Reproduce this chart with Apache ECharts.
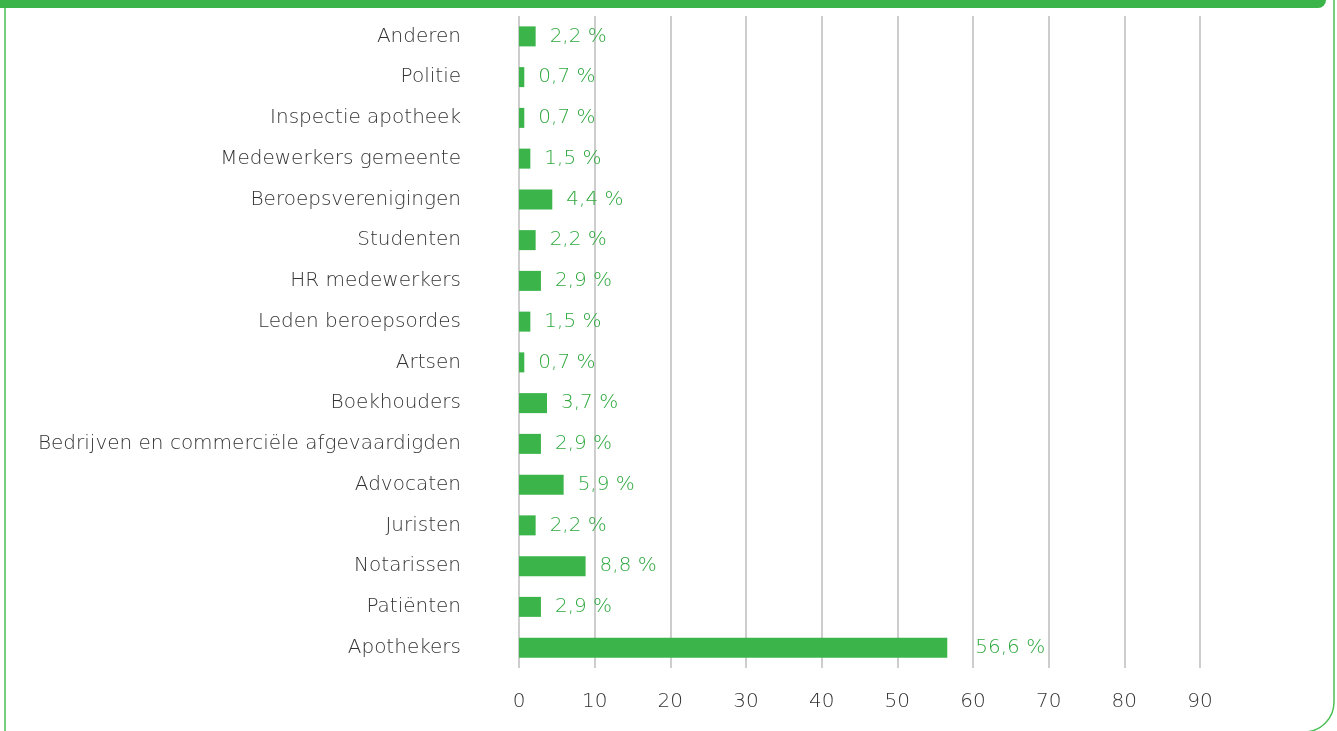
<!DOCTYPE html>
<html>
<head>
<meta charset="utf-8">
<script src="https://cdn.jsdelivr.net/npm/echarts@6/dist/echarts.min.js"></script>
<style>
    html, body { margin: 0; padding: 0; background: #fff; }
    #chart { width: 1337px; height: 731px; }
</style>
</head>
<body>
<div id="chart"></div>
<script>
var categories = [
    'Anderen', 'Politie', 'Inspectie apotheek', 'Medewerkers gemeente',
    'Beroepsverenigingen', 'Studenten', 'HR medewerkers', 'Leden beroepsordes',
    'Artsen', 'Boekhouders', 'Bedrijven en commerciële afgevaardigden',
    'Advocaten', 'Juristen', 'Notarissen', 'Patiënten', 'Apothekers'
];
var percentages = [2.2, 0.7, 0.7, 1.5, 4.4, 2.2, 2.9, 1.5, 0.7, 3.7, 2.9, 5.9, 2.2, 8.8, 2.9, 56.6];
var xTicks = [0, 10, 20, 30, 40, 50, 60, 70, 80, 90];

var green = '#3bb44a';
var font = "'DejaVu Sans', sans-serif";

var chart = echarts.init(document.getElementById('chart'));

var barData = percentages.map(function (v) {
    // the biggest bar has its label pushed a bit further out
    return v > 50 ? { value: v, label: { distance: 28 } } : v;
});

var option = {
    animation: false,
    grid: { left: 519, right: 137, top: 16, bottom: 63, containLabel: false },
    xAxis: {
        type: 'value',
        min: xTicks[0],
        max: xTicks[xTicks.length - 1],
        interval: 10,
        axisLine: { show: false },
        axisTick: { show: false },
        splitLine: { lineStyle: { color: '#bdbdbd', width: 1.5 } },
        axisLabel: { color: '#333333', fontSize: 20, fontWeight: 200, fontFamily: font, margin: 24 }
    },
    yAxis: {
        type: 'category',
        data: categories,
        inverse: true,
        axisLine: { show: false },
        axisTick: { show: false },
        axisLabel: { color: '#333333', fontSize: 20, fontWeight: 200, fontFamily: font, margin: 58 }
    },
    series: [{
        type: 'bar',
        data: barData,
        barWidth: 20,
        itemStyle: { color: green },
        label: {
            show: true,
            position: 'right',
            distance: 14,
            color: '#2fa83e',
            fontSize: 20,
            fontWeight: 200,
            fontFamily: font,
            formatter: function (p) { return String(p.value).replace('.', ',') + ' %'; }
        }
    }],
    graphic: [
        {
            type: 'rect', z: 10,
            shape: { x: 5, y: -30, width: 1329, height: 762, r: [0, 0, 30, 0] },
            style: { fill: null, stroke: '#4cbf55', lineWidth: 1.5 }
        },
        {
            type: 'rect', z: 11,
            shape: { x: 0, y: 0, width: 1326, height: 8, r: [0, 0, 8, 0] },
            style: { fill: green }
        }
    ]
};
chart.setOption(option);
</script>
</body>
</html>
